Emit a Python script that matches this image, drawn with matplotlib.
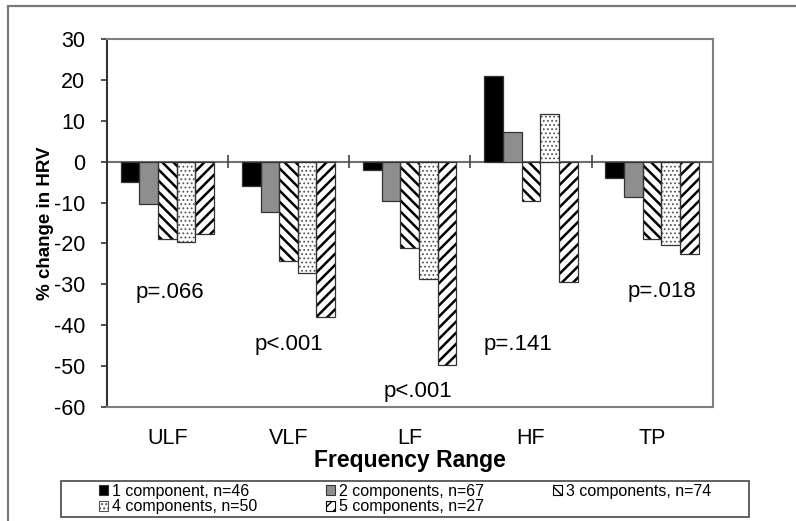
import numpy as np
import matplotlib
matplotlib.use('Agg')
import matplotlib.pyplot as plt
from matplotlib.patches import Rectangle

plt.rcParams['font.family'] = ['Liberation Sans', 'DejaVu Sans']
plt.rcParams['axes.unicode_minus'] = False

categories = ['ULF', 'VLF', 'LF', 'HF', 'TP']
series_labels = ['1 component, n=46', '2 components, n=67', '3 components, n=74',
                 '4 components, n=50', '5 components, n=27']
comp1 = [-5.0, -5.9, -2.0, 21.0, -4.0]
comp2 = [-10.4, -12.3, -9.6, 7.3, -8.7]
comp3 = [-18.8, -24.3, -21.2, -9.6, -18.8]
comp4 = [-19.6, -27.2, -28.6, 11.7, -20.5]
comp5 = [-17.6, -38.0, -49.8, -29.4, -22.7]
p_labels = ['p=.066', 'p<.001', 'p<.001', 'p=.141', 'p=.018']
p_x = [0.02, 1.0, 2.07, 2.89, 4.08]
p_y = [-33.4, -46.1, -57.6, -46.0, -33.0]

series = [comp1, comp2, comp3, comp4, comp5]
# face colour, hatch, hatch colour, hatch linewidth
styles = [('black', None, 'black', 1.0),
          ('#8e8e8e', None, '#8e8e8e', 1.0),
          ('white', '\\\\\\', 'black', 1.8),
          ('white', '....', '#555555', 0.8),
          ('white', '///', 'black', 1.8)]

fig = plt.figure(figsize=(7.96, 5.21), dpi=100)
ax = fig.add_axes([106.7 / 796, 1 - 407 / 521, 606 / 796, 368 / 521])

x = np.arange(len(categories))
w = 0.154
handles = []
for k, vals in enumerate(series):
    fc, hatch, hc, hlw = styles[k]
    pos = x + (k - 2) * w
    with plt.rc_context({'hatch.linewidth': hlw}):
        ax.bar(pos, vals, w, color=fc, edgecolor=hc, linewidth=0, hatch=hatch, zorder=2)
    ax.bar(pos, vals, w, color='none', edgecolor='#333333', linewidth=0.9, zorder=3)
    with plt.rc_context({'hatch.linewidth': hlw}):
        h = Rectangle((0, 0), 1, 1, facecolor=fc, edgecolor=hc, linewidth=0.8, hatch=hatch)
    if hatch is None:
        h.set_edgecolor('#333333')
    handles.append(h)

ax.axhline(0, color='#707070', linewidth=1.5, zorder=1)
ax.vlines(np.arange(len(categories)) + 0.5, -1.6, 1.6, color='#444444', linewidth=1.2, zorder=1)

for lab, px, py in zip(p_labels, p_x, p_y):
    ax.text(px, py, lab, ha='center', va='baseline', fontsize=16)

ax.set_xlim(-0.5, 4.5)
ax.set_ylim(-60, 30)
ax.set_yticks(np.arange(-60, 31, 10))
ax.set_xticks(x)
ax.set_xticklabels(categories, fontsize=15.5)
ax.tick_params(axis='x', length=0, pad=15)
ax.tick_params(axis='y', labelsize=15.5, length=4.5, width=1.2, pad=11, color='#333333')
ax.set_xlabel('Frequency Range', fontsize=16.5, fontweight='bold', labelpad=0)
ax.set_ylabel('% change in HRV', fontsize=13.5, fontweight='bold', labelpad=0)

for s in ['top', 'right', 'bottom']:
    ax.spines[s].set_color('#808080')
    ax.spines[s].set_linewidth(1.5)
ax.spines['left'].set_color('#333333')
ax.spines['left'].set_linewidth(1.5)

order = [0, 3, 1, 4, 2]
leg = fig.legend([handles[i] for i in order], [series_labels[i] for i in order],
                 ncol=3, mode='expand', loc='center',
                 bbox_to_anchor=(99 / 796, 1 - 517 / 521, 612 / 796, 36 / 521),
                 frameon=False, fontsize=11.5, handlelength=0.55, handleheight=0.55,
                 handletextpad=0.25, labelspacing=0.05, borderpad=0, borderaxespad=0)

fig.patches.append(Rectangle((61 / 796, 1 - 517 / 521), 688 / 796, 36 / 521,
                             transform=fig.transFigure, fill=False,
                             edgecolor='#555555', linewidth=1.3))
fig.patches.append(Rectangle((8 / 796, -0.1), 1.2, 1.1 - 6 / 521,
                             transform=fig.transFigure, fill=False,
                             edgecolor='#7a7a7a', linewidth=1.6))

fig.savefig('out.png', dpi=100)
